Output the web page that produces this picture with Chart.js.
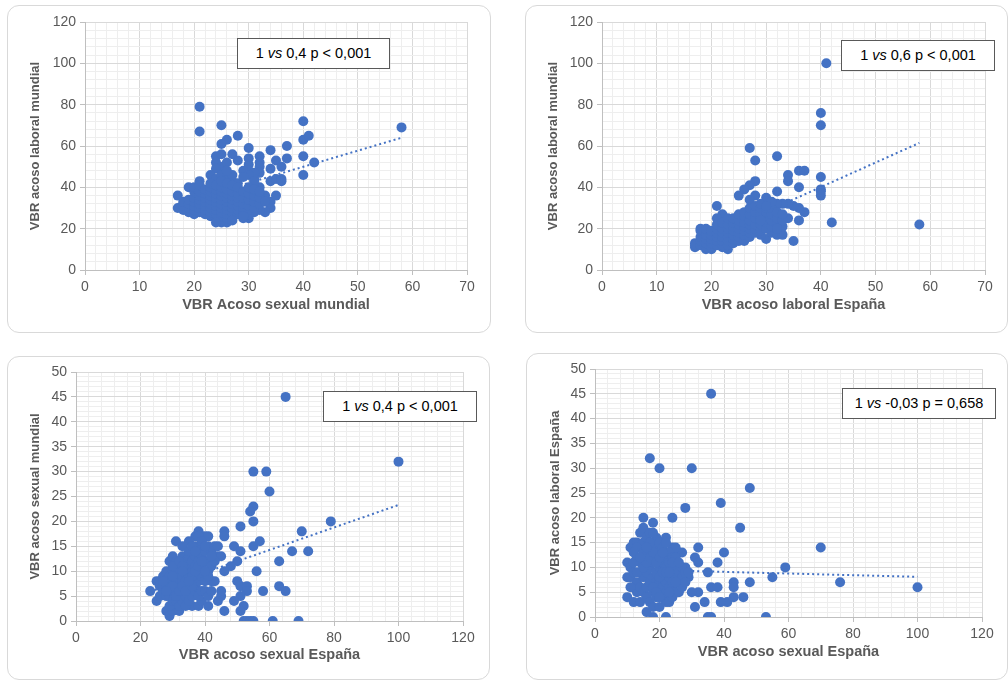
<!DOCTYPE html>
<html>
<head>
<meta charset="utf-8">
<script src="https://cdn.jsdelivr.net/npm/chart.js@4/dist/chart.umd.min.js"></script>
<style>
  body { margin: 0; background: #fff; width: 1008px; height: 681px; overflow: hidden; position: relative; font-family: "Liberation Sans", Arial, sans-serif; }
  .panel { position: absolute; border: 1px solid #d9d9d9; border-radius: 12px; box-sizing: border-box; background: #fff; }
  .panel canvas { position: absolute; left: 0; top: 0; }
  .note { position: absolute; border: 1px solid #595959; background: #fff; box-sizing: border-box;
          font-size: 14.5px; color: #000; text-align: center; white-space: nowrap; }
</style>
</head>
<body>
<div class="panel" id="box1" style="left:7px;top:5px;width:484px;height:328px"><canvas id="chart1"></canvas></div>
<div class="panel" id="box2" style="left:525px;top:5px;width:483px;height:328px"><canvas id="chart2"></canvas></div>
<div class="panel" id="box3" style="left:7px;top:356px;width:483px;height:324px"><canvas id="chart3"></canvas></div>
<div class="panel" id="box4" style="left:526px;top:353px;width:482px;height:327px"><canvas id="chart4"></canvas></div>

<div class="note" style="left:237px;top:38px;width:153px;height:31px;line-height:29px">1 <i>vs</i> 0,4 p &lt; 0,001</div>
<div class="note" style="left:841px;top:40px;width:154px;height:31px;line-height:29px">1 <i>vs</i> 0,6 p &lt; 0,001</div>
<div class="note" style="left:323px;top:391px;width:154px;height:31px;line-height:29px">1 <i>vs</i> 0,4 p &lt; 0,001</div>
<div class="note" style="left:842px;top:388px;width:154px;height:31px;line-height:29px">1 <i>vs</i> -0,03 p = 0,658</div>

<script>
// Panel 1: VBR Acoso sexual mundial (x) vs VBR acoso laboral mundial (y)
const panel1Points = [
  [21,79],[21,67],[25,70],[26,63],[25,61],[28,65],[30,59],[27,56],[28,53],[24,55],[25,56],[24,52],[25,50],[24,49],
  [26,52],[30,54],[30,51],[30,48],[29,48],[32,55],[32,52],[32,50],[32,47],[31,47],[31,44],[34,58],[35,53],[36,50],
  [37,60],[37,54],[40,72],[40,63],[41,65],[40,55],[40,46],[42,52],[58,69],[34,49],[34,43],[35,44],[36,44],[36,43],
  [33,36],[34,33],[34,30],[33,28],[32,29],[31,28],[30,25],[29,25],[31,31],[32,40],[23,46],[24,44],[21,43],[19,40],
  [17,36],[17,30],[25,23],[26,23],[25,46],[26,44],[27,43],[28,42],[30,46],[31,43],[29,45],[27,46],[26,48],
  [18,29],[18,31],[18,33],[19,28],[19,30],[19,32],[19,34],[20,27],[20,29],[20,31],[20,33],[20,35],[20,38],[20,40],
  [21,28],[21,30],[21,32],[21,34],[21,36],[21,38],[21,41],[22,27],[22,29],[22,31],[22,33],[22,35],[22,37],[22,39],
  [23,26],[23,28],[23,30],[23,32],[23,34],[23,36],[23,38],[23,40],[23,42],[24,25],[24,27],[24,29],[24,31],[24,33],
  [24,35],[24,37],[24,39],[24,41],[25,24],[25,26],[25,28],[25,30],[25,32],[25,34],[25,36],[25,38],[25,40],[25,43],
  [26,25],[26,27],[26,29],[26,31],[26,33],[26,35],[26,37],[26,39],[26,42],[27,26],[27,28],[27,30],[27,32],[27,34],
  [27,36],[27,38],[27,41],[28,27],[28,29],[28,31],[28,33],[28,35],[28,37],[28,40],[29,28],[29,30],[29,32],[29,35],
  [29,38],[30,27],[30,29],[30,31],[30,34],[30,37],[30,40],[31,30],[31,33],[31,36],[31,39],[32,32],[32,35],[32,38],
  [33,33],[35,36],[29,26],[24,23],[27,24]
];
// Panel 2: VBR acoso laboral España (x) vs VBR acoso laboral mundial (y)
const panel2Points = [
  [41,100],[40,76],[40,70],[27,59],[28,53],[32,55],[34,46],[34,43],[36,48],[37,48],[36,40],[40,45],[40,39],[40,38],
  [40,36],[42,23],[58,22],[28,43],[27,41],[26,39],[25,36],[28,36],[32,38],[30,35],[30,33],[35,14],[30,15],[29,17],
  [31,18],[32,17],[33,17],[33,21],[34,25],[36,24],[37,28],[36,30],[35,31],[34,32],[33,32],[32,32],[21,31],[18,20],
  [17,13],[17,11],[19,10],[20,10],[22,11],[23,10],[22,27],[21,25],
  [17,12],[18,12],[18,14],[18,16],[18,19],[19,11],[19,13],[19,15],[19,17],[19,20],[20,11],[20,13],[20,15],[20,17],
  [20,19],[21,12],[21,14],[21,16],[21,18],[21,20],[21,22],[22,12],[22,14],[22,16],[22,18],[22,20],[22,23],[23,12],
  [23,14],[23,16],[23,18],[23,20],[23,22],[23,25],[24,13],[24,15],[24,17],[24,19],[24,21],[24,23],[24,25],[25,14],
  [25,16],[25,18],[25,20],[25,22],[25,24],[25,27],[26,14],[26,17],[26,19],[26,21],[26,23],[26,26],[26,28],[27,16],
  [27,18],[27,20],[27,22],[27,24],[27,27],[27,30],[27,34],[28,18],[28,20],[28,22],[28,25],[28,28],[28,31],[29,19],
  [29,22],[29,25],[29,27],[29,30],[29,32],[30,20],[30,23],[30,26],[30,28],[30,30],[31,21],[31,24],[31,27],[31,30],
  [32,22],[32,25],[32,28],[33,24],[33,27],[32,20],[29,24],[31,33],[30,31]
];
// Panel 3: VBR acoso sexual España (x) vs VBR acoso sexual mundial (y)
const panel3Points = [
  [65,45],[100,32],[55,30],[59,30],[60,26],[55,23],[54,22],[55,20],[51,19],[79,20],[70,18],[67,14],[72,14],[63,12],
  [56,10],[63,7],[65,6],[58,6],[57,16],[55,15],[46,18],[46,17],[49,15],[51,14],[50,12],[48,11],[46,10],[44,13],
  [43,15],[45,13],[50,8],[51,7],[53,7],[53,6],[51,5],[49,4],[52,3],[51,2],[46,2],[52,0],[53,0],[54,0],[55,0],
  [61,0],[69,0],[45,5],[45,6],[44,4],[41,3],[36,3],[38,3],[39,4],[42,8],[43,8],[41,10],[40,17],[41,17],[38,18],
  [37,17],[35,16],[31,16],[33,15],[23,6],[25,4],[25,8],[26,7],[28,2],[29,1],[30,2],[31,3],[32,2],[28,9],
  [26,5],[26,8],[27,6],[27,7],[27,9],[28,5],[28,7],[28,8],[28,10],[29,3],[29,5],[29,7],[29,9],[29,12],[30,4],
  [30,6],[30,8],[30,10],[30,13],[31,4],[31,6],[31,7],[31,9],[31,11],[31,12],[32,3],[32,5],[32,7],[32,8],[32,10],
  [33,4],[33,6],[33,8],[33,9],[33,13],[34,3],[34,5],[34,7],[34,8],[34,10],[34,12],[35,4],[35,6],[35,7],[35,9],
  [35,11],[35,13],[36,5],[36,8],[36,10],[36,12],[36,14],[37,6],[37,7],[37,9],[37,11],[37,13],[37,15],[38,5],
  [38,8],[38,10],[38,12],[38,14],[39,6],[39,9],[39,11],[39,13],[39,15],[40,6],[40,8],[40,12],[40,14],[41,5],
  [41,9],[41,12],[41,15],[42,6],[42,11],[42,14],[43,12],[44,15],[38,17],[39,16],
  [27,8],[29,6],[30,7],[31,5],[32,6],[33,7],[34,6],[36,7],[36,9],[37,10],[38,11],[39,12],[40,10],[42,13],[30,11],
  [32,12],[33,11],[35,14],[36,15],[28,6],[30,9],[33,10],[35,8],[37,14],[40,15]
];
// Panel 4: VBR acoso sexual España (x) vs VBR acoso laboral España (y)
const panel4Points = [
  [36,45],[17,32],[20,30],[30,30],[48,26],[39,23],[28,22],[24,20],[15,20],[18,19],[45,18],[70,14],[40,13],[32,14],
  [31,12],[32,11],[38,11],[35,9],[59,10],[55,8],[76,7],[100,6],[48,7],[43,7],[43,6],[46,4],[43,4],[41,3],[39,3],
  [34,3],[31,2],[35,0],[36,0],[53,0],[18,0],[22,0],[36,6],[38,6],[32,5],[30,5],[28,10],[29,8],[26,13],[27,13],
  [24,14],[25,14],[22,16],
  [10,11],[10,8],[10,4],[11,8],[11,10],[11,14],[12,3],[12,6],[12,9],[12,15],[13,5],[13,7],[13,12],[13,15],[14,3],
  [14,6],[14,9],[14,11],[14,14],[14,17],[15,5],[15,8],[15,12],[15,15],[15,18],[16,1],[16,4],[16,6],[16,9],[16,13],
  [16,16],[17,3],[17,7],[17,10],[17,14],[17,17],[18,2],[18,5],[18,8],[18,11],[18,15],[19,4],[19,7],[19,9],[19,12],
  [19,14],[19,16],[20,2],[20,5],[20,7],[20,10],[20,13],[20,15],[21,4],[21,6],[21,8],[21,11],[21,14],[22,3],[22,5],
  [22,7],[22,10],[22,12],[22,15],[23,3],[23,6],[23,8],[23,11],[23,13],[24,4],[24,6],[24,9],[24,12],[25,5],[25,8],
  [25,10],[25,12],[26,5],[26,7],[26,9],[27,6],[27,8],[27,10],[28,7],[28,9],[29,9],
  [12,11],[13,9],[13,14],[15,10],[15,13],[16,11],[17,12],[17,15],[18,13],[18,6],[19,5],[19,11],[20,8],[20,12],
  [21,9],[21,13],[22,9],[23,9],[23,5],[24,7],[24,11],[25,7],[26,11],[11,6],[12,13],[14,12],[16,14],[18,17],[20,4]
];

// Líneas de tendencia (extremos)
const trend1X = [17, 58],  trend1Y = [32, 64];
const trend2X = [17, 58],  trend2Y = [12.8, 61.5];
const trend3X = [23, 100], trend3Y = [5.9, 23.3];
const trend4X = [10, 100], trend4Y = [9.6, 8.1];

// Ticks principales
const xTicksA = [0, 10, 20, 30, 40, 50, 60, 70];
const yTicksA = [0, 20, 40, 60, 80, 100, 120];
const xTicksB = [0, 20, 40, 60, 80, 100, 120];
const yTicksB = [0, 5, 10, 15, 20, 25, 30, 35, 40, 45, 50];

const blue = '#4472C4';
const grey = '#595959';
const fontFamily = '"Liberation Sans", Arial, sans-serif';

function axis(majors, step, title, fit, isX, titlePad) {
  const isMajor = v => majors.includes(Math.round(v * 1000) / 1000);
  return {
    type: 'linear',
    min: majors[0],
    max: majors[majors.length - 1],
    afterFit: s => { if (isX) s.height = fit; else s.width = fit; },
    ticks: {
      stepSize: step,
      autoSkip: false,
      maxRotation: 0,
      padding: 4,
      color: grey,
      font: { family: fontFamily, size: 14 },
      callback: v => isMajor(v) ? String(v) : ''
    },
    grid: {
      color: c => isMajor(c.tick.value) ? '#d9d9d9' : '#eeeeee',
      tickColor: c => isMajor(c.tick.value) ? '#bfbfbf' : 'rgba(0,0,0,0)',
      tickLength: 5,
      lineWidth: 1
    },
    border: { color: '#bfbfbf' },
    title: {
      display: true,
      text: title,
      color: grey,
      font: { family: fontFamily, size: isX ? 14.5 : 13, weight: 'bold' },
      padding: isX ? { top: 0, bottom: titlePad } : { top: titlePad, bottom: 0 }
    }
  };
}

function makeChart(id, w, h, points, tX, tY, xAxis, yAxis, pad) {
  const canvas = document.getElementById(id);
  canvas.width = w;
  canvas.height = h;
  canvas.style.width = w + 'px';
  canvas.style.height = h + 'px';
  new Chart(canvas.getContext('2d'), {
    type: 'scatter',
    data: {
      datasets: [{
        data: points.map(p => ({ x: p[0], y: p[1] })),
        backgroundColor: blue,
        borderColor: blue,
        borderWidth: 0,
        pointRadius: 5,
        pointHoverRadius: 5
      }, {
        type: 'line',
        data: tX.map((x, i) => ({ x: x, y: tY[i] })),
        borderColor: blue,
        borderWidth: 2,
        borderDash: [2, 3],
        pointRadius: 0,
        fill: false
      }]
    },
    options: {
      responsive: false,
      animation: false,
      layout: { padding: pad },
      plugins: { legend: { display: false }, tooltip: { enabled: false } },
      scales: { x: xAxis, y: yAxis }
    }
  });
}

makeChart('chart1', 482, 326, panel1Points, trend1X, trend1Y,
  axis(xTicksA, 2, 'VBR Acoso sexual mundial', 62, true, 18),
  axis(yTicksA, 4, 'VBR acoso laboral mundial', 77, false, 20),
  { left: 0, top: 16, right: 23, bottom: 0 });

makeChart('chart2', 481, 326, panel2Points, trend2X, trend2Y,
  axis(xTicksA, 2, 'VBR acoso laboral España', 62, true, 18),
  axis(yTicksA, 4, 'VBR acoso laboral mundial', 76, false, 20),
  { left: 0, top: 16, right: 22, bottom: 0 });

makeChart('chart3', 481, 322, panel3Points, trend3X, trend3Y,
  axis(xTicksB, 4, 'VBR acoso sexual España', 58, true, 15),
  axis(yTicksB, 1, 'VBR acoso sexual mundial', 68, false, 20),
  { left: 0, top: 15, right: 26, bottom: 0 });

makeChart('chart4', 480, 325, panel4Points, trend4X, trend4Y,
  axis(xTicksB, 4, 'VBR acoso sexual España', 62, true, 18),
  axis(yTicksB, 1, 'VBR acoso laboral España', 68, false, 21),
  { left: 0, top: 15, right: 25, bottom: 0 });
</script>
</body>
</html>
